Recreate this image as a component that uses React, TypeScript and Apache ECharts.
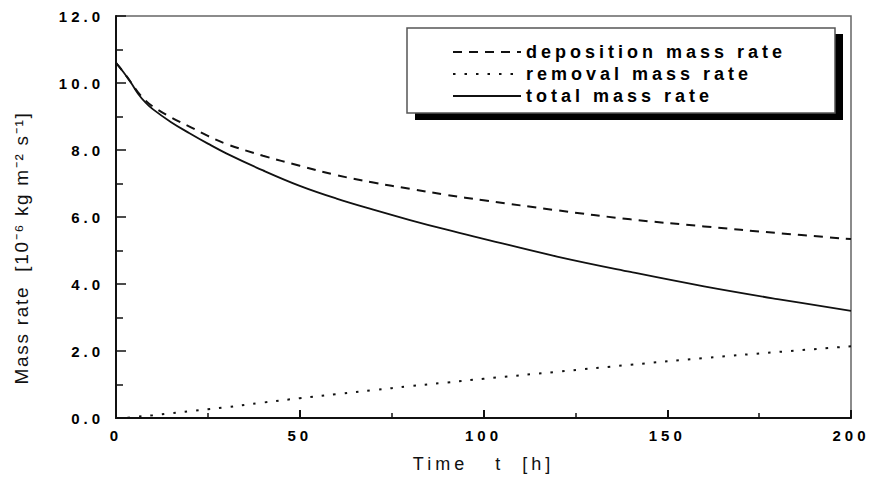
import React, { useEffect, useRef } from "react";
import * as echarts from "echarts";

const timeH = [0, 2, 4, 6, 8, 10, 15, 20, 25, 30, 40, 50, 60, 70, 80, 90, 100, 120, 140, 160, 180, 200];
const depositionRate = [10.6, 10.33, 10.03, 9.72, 9.48, 9.3, 8.97, 8.7, 8.42, 8.18, 7.83, 7.53, 7.25, 7.03, 6.84, 6.66, 6.5, 6.2, 5.93, 5.72, 5.52, 5.34];
const removalRate = [0, 0, 0.02, 0.04, 0.06, 0.08, 0.14, 0.2, 0.26, 0.32, 0.46, 0.59, 0.71, 0.83, 0.95, 1.06, 1.17, 1.38, 1.59, 1.79, 1.97, 2.14];
const totalRate = [10.6, 10.33, 10.02, 9.68, 9.42, 9.22, 8.83, 8.5, 8.19, 7.9, 7.39, 6.93, 6.55, 6.22, 5.91, 5.62, 5.35, 4.82, 4.36, 3.93, 3.55, 3.2];

const seriesNames = ["deposition mass rate", "removal mass rate", "total mass rate"];
const xAxisTitle = "Time   t  [h]";
const yAxisTitle = "Mass rate  [10\u207B\u2076 kg m\u207B\u00B2 s\u207B\u00B9]";

const FONT = "'Liberation Sans', Arial, Helvetica, sans-serif";

const pairs = (ys: number[]) => timeH.map((t, i) => [t, ys[i]]);

export default function App() {
  const ref = useRef<HTMLDivElement>(null);
  useEffect(() => {
    if (!ref.current) return;
    const chart = echarts.init(ref.current, undefined, { renderer: "svg" });
    chart.setOption({
      animation: false,
      backgroundColor: "#ffffff",
      color: ["#111", "#111", "#111"],
      grid: {
        left: 116,
        right: 24,
        top: 16,
        bottom: 62,
        show: true,
        borderColor: "#666",
        borderWidth: 1.5,
        backgroundColor: "transparent",
      },
      xAxis: {
        type: "value",
        min: 0,
        max: 200,
        interval: 50,
        name: xAxisTitle,
        nameLocation: "middle",
        nameGap: 37,
        nameTextStyle: { fontFamily: FONT, fontSize: 18, color: "#111" },
        axisLine: { show: true, onZero: false, lineStyle: { color: "#111", width: 2 } },
        axisTick: { show: true, inside: true, length: 8, lineStyle: { color: "#111", width: 2 } },
        minorTick: { show: true, splitNumber: 2, length: 5, lineStyle: { color: "#111", width: 1.5 } },
        splitLine: { show: false },
        axisLabel: { margin: 10, fontFamily: FONT, fontSize: 15, fontWeight: "bold", color: "#000" },
      },
      yAxis: {
        type: "value",
        min: 0,
        max: 12,
        interval: 2,
        name: yAxisTitle,
        nameLocation: "middle",
        nameRotate: 90,
        nameGap: 85,
        nameTextStyle: {
          fontFamily: FONT,
          fontSize: 19,
          color: "#111",
          padding: [0, 62, 0, 0],
        },
        axisLine: { show: true, onZero: false, lineStyle: { color: "#111", width: 2 } },
        axisTick: { show: true, inside: true, length: 10, lineStyle: { color: "#111", width: 1.5 } },
        minorTick: { show: true, splitNumber: 2, length: 7, lineStyle: { color: "#111", width: 1.5 } },
        splitLine: { show: false },
        axisLabel: {
          margin: 12,
          fontFamily: FONT,
          fontSize: 15,
          fontWeight: "bold",
          color: "#000",
          formatter: (v: number) => v.toFixed(1),
        },
      },
      legend: {
        orient: "vertical",
        left: 447,
        top: 38,
        itemWidth: 68,
        itemHeight: 18,
        itemGap: 4,
        z: 5,
        itemStyle: { color: "rgba(0,0,0,0)", borderWidth: 0, opacity: 0 },
        textStyle: { fontFamily: FONT, fontSize: 18, fontWeight: "bold", color: "#000" },
        data: seriesNames,
      },
      graphic: [
        {
          type: "rect",
          z: 3,
          shape: { x: 415, y: 34, width: 428, height: 86 },
          style: { fill: "#000" },
        },
        {
          type: "rect",
          z: 3,
          shape: { x: 407, y: 28, width: 428, height: 85 },
          style: { fill: "#fff", stroke: "#555", lineWidth: 1.5 },
        },
      ],
      series: [
        {
          name: seriesNames[0],
          type: "line",
          data: pairs(depositionRate),
          smooth: 0.4,
          symbol: "none",
          lineStyle: { color: "#111", width: 2, type: [9, 7] },
        },
        {
          name: seriesNames[1],
          type: "line",
          data: pairs(removalRate),
          smooth: 0.4,
          symbol: "none",
          lineStyle: { color: "#111", width: 2, type: [2.5, 9] },
        },
        {
          name: seriesNames[2],
          type: "line",
          data: pairs(totalRate),
          smooth: 0.4,
          symbol: "none",
          lineStyle: { color: "#111", width: 1.8, type: "solid" },
        },
      ],
    });
    return () => chart.dispose();
  }, []);
  return (
    <>
      <style>{`
        .chartbox text { letter-spacing: 4px; white-space: pre; }
        .chartbox text[style*="19px"] { letter-spacing: 1.7px; }
      `}</style>
      <div
        ref={ref}
        className="chartbox"
        style={{ position: "absolute", left: 0, top: 0, width: 875, height: 480 }}
      />
    </>
  );
}
